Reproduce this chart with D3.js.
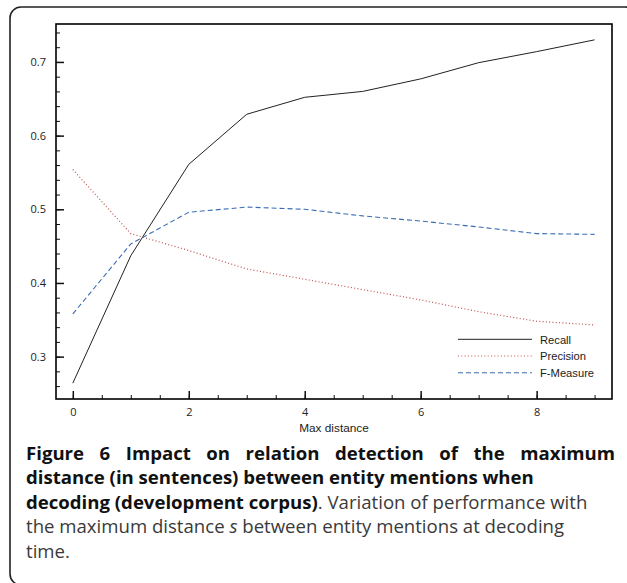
<!DOCTYPE html>
<html>
<head>
<meta charset="utf-8">
<script src="https://cdn.jsdelivr.net/npm/d3@7"></script>
<style>
  html, body { margin: 0; padding: 0; background: #fff; }
  #wrap { position: relative; width: 627px; height: 583px; overflow: hidden; }
  svg { position: absolute; left: 0; top: 0; }
  .axis text { font-family: "Open Sans", sans-serif; font-size: 11px; fill: #222; }
  .axis path { display: none; }
  .axis line { stroke: #111; }
  #caption { position: absolute; left: 26px; top: 440.5px; width: 589px;
    font-family: "Open Sans", sans-serif; font-size: 18.6px; line-height: 24.5px; color: #3a3a3a; }
  #caption b { color: #111; }
  #caption .l1 { text-align: justify; text-align-last: justify; }
  #caption div { white-space: nowrap; }
</style>
</head>
<body>
<div id="wrap">
  <div id="chart"></div>
  <div id="caption">
    <div class="l1"><b>Figure 6 Impact on relation detection of the maximum</b></div>
    <div><b>distance (in sentences) between entity mentions when</b></div>
    <div><b>decoding (development corpus)</b>. Variation of performance with</div>
    <div>the maximum distance <i>s</i> between entity mentions at decoding</div>
    <div>time.</div>
  </div>
</div>
<script>
// max distance values on the x axis
const distances = [0, 1, 2, 3, 4, 5, 6, 7, 8, 9];
const recall    = [0.264, 0.437, 0.561, 0.629, 0.652, 0.660, 0.677, 0.699, 0.714, 0.730];
const precision = [0.554, 0.467, 0.444, 0.419, 0.405, 0.391, 0.377, 0.361, 0.348, 0.343];
const fmeasure  = [0.358, 0.453, 0.496, 0.503, 0.500, 0.491, 0.484, 0.476, 0.467, 0.466];

const seriesNames = ['Recall', 'Precision', 'F-Measure'];
const xTicks = [0, 2, 4, 6, 8];
const yTicks = [0.3, 0.4, 0.5, 0.6, 0.7];

const config = {
  width: 627, height: 583,
  plot: {left: 56, top: 24, right: 612, bottom: 399}
};

const series = [
  {name: seriesNames[0], values: recall,    color: '#222',    dash: null,  width: 1},
  {name: seriesNames[1], values: precision, color: '#c0504d', dash: '1,2.3', width: 1.2},
  {name: seriesNames[2], values: fmeasure,  color: '#3a6db3', dash: '5,3', width: 1.1}
];

const svg = d3.select('#chart').append('svg')
    .attr('width', config.width)
    .attr('height', config.height);

// outer rounded frame (runs off the right edge)
svg.append('rect')
    .attr('x', 10).attr('y', 7)
    .attr('width', 626).attr('height', 578)
    .attr('rx', 11).attr('ry', 11)
    .attr('fill', 'none')
    .attr('stroke', '#222')
    .attr('stroke-width', 1.6);

const p = config.plot;
const xScale = d3.scaleLinear().domain([-0.29, 9.3]).range([p.left, p.right]);
const yScale = d3.scaleLinear().domain([0.2425, 0.7515]).range([p.bottom, p.top]);

// minor ticks first, majors on top
svg.append('g')
    .attr('class', 'axis')
    .attr('transform', `translate(0,${p.bottom})`)
    .call(d3.axisBottom(xScale).tickValues(d3.range(0, 9.01, 0.5)).tickSize(-4).tickFormat(''));
svg.append('g')
    .attr('class', 'axis')
    .attr('transform', `translate(0,${p.bottom})`)
    .call(d3.axisBottom(xScale).tickValues(xTicks).tickSize(-8).tickPadding(9.5).tickFormat(d3.format('d')))
    .selectAll('line').attr('stroke-width', 1.5);

svg.append('g')
    .attr('class', 'axis')
    .attr('transform', `translate(${p.left},0)`)
    .call(d3.axisLeft(yScale).tickValues(d3.range(0.26, 0.7501, 0.02)).tickSize(-4).tickFormat(''));
svg.append('g')
    .attr('class', 'axis')
    .attr('transform', `translate(${p.left},0)`)
    .call(d3.axisLeft(yScale).tickValues(yTicks).tickSize(-8).tickPadding(10).tickFormat(d3.format('.1f')))
    .selectAll('line').attr('stroke-width', 1.5);

// plot frame
svg.append('rect')
    .attr('x', p.left).attr('y', p.top)
    .attr('width', p.right - p.left).attr('height', p.bottom - p.top)
    .attr('fill', 'none')
    .attr('stroke', '#000')
    .attr('stroke-width', 1.6);

const line = d3.line()
    .x((d, i) => xScale(distances[i]))
    .y(d => yScale(d));

svg.selectAll('.series')
    .data(series)
    .join('path')
    .attr('class', 'series')
    .attr('d', d => line(d.values))
    .attr('fill', 'none')
    .attr('stroke', d => d.color)
    .attr('stroke-width', d => d.width)
    .attr('stroke-dasharray', d => d.dash);

// legend
const legend = svg.append('g').attr('transform', 'translate(458,339.3)');
const rows = legend.selectAll('g')
    .data(series)
    .join('g')
    .attr('transform', (d, i) => `translate(0,${i * 16.7})`);
rows.append('line')
    .attr('x1', 0).attr('x2', 74)
    .attr('stroke', d => d.color)
    .attr('stroke-width', d => d.width)
    .attr('stroke-dasharray', d => d.dash);
rows.append('text')
    .attr('x', 82).attr('y', 4.2)
    .style('font-family', '"Liberation Sans", Arial, sans-serif')
    .style('font-size', '11.2px')
    .attr('fill', '#222')
    .text(d => d.name);

svg.append('text')
    .attr('x', (p.left + p.right) / 2)
    .attr('y', 432)
    .attr('text-anchor', 'middle')
    .style('font-family', '"Liberation Sans", Arial, sans-serif')
    .style('font-size', '11.8px')
    .attr('fill', '#222')
    .text('Max distance');
</script>
</body>
</html>
